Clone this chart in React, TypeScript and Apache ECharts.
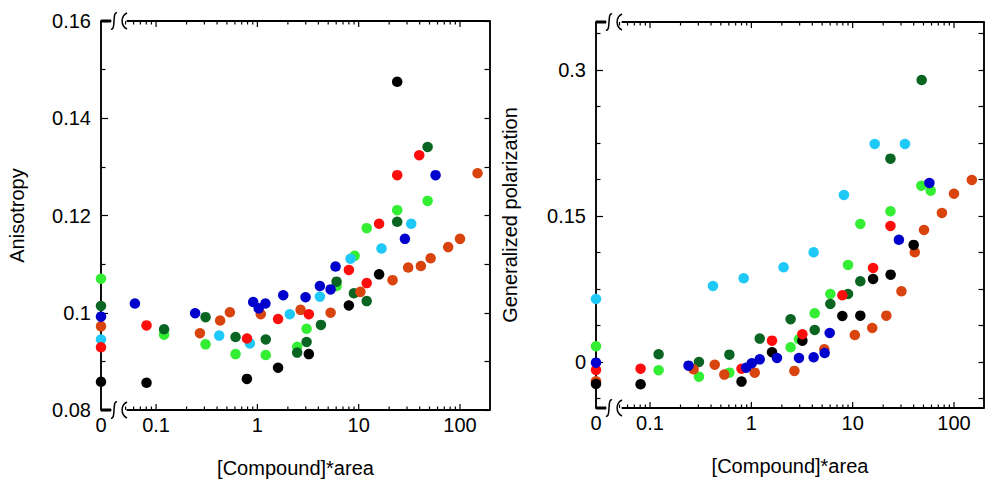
import React, { useEffect, useRef } from "react";
import * as echarts from "echarts";

type Pt = [number, number];

// ---- Anisotropy vs [Compound]*area (x = 0 points sit on the broken-axis origin)
const anLightGreen: Pt[] = [[0, 0.107], [0.12, 0.0955], [0.308, 0.0935], [0.609, 0.0915], [1.21, 0.0913], [2.47, 0.093], [3.06, 0.0967], [6.05, 0.1055], [9.12, 0.1117], [12.0, 0.1174], [24.0, 0.1211], [47.9, 0.123]];
const anDarkGreen: Pt[] = [[0, 0.1014], [0.12, 0.0966], [0.308, 0.0991], [0.609, 0.095], [1.21, 0.0945], [2.47, 0.0918], [3.06, 0.094], [4.24, 0.0975], [6.05, 0.1064], [8.97, 0.104], [12.0, 0.1024], [24.0, 0.1187], [47.9, 0.1341]];
const anCyan: Pt[] = [[0, 0.0945], [0.42, 0.0953], [0.843, 0.0937], [2.09, 0.0997], [4.14, 0.1033], [8.3, 0.1111], [16.8, 0.1132], [33, 0.1183]];
const anOrange: Pt[] = [[0, 0.0972], [0.271, 0.0958], [0.429, 0.0984], [0.535, 0.1001], [1.08, 0.0997], [2.67, 0.1006], [5.28, 0.1], [10.4, 0.1043], [21.6, 0.1067], [30.8, 0.1093], [41.1, 0.1096], [51.3, 0.1112], [76.5, 0.1135], [100, 0.1152], [149, 0.1287]];
const anBlack: Pt[] = [[0, 0.0858], [0.0805, 0.0856], [0.788, 0.0864], [1.6, 0.0887], [3.22, 0.0915], [8.0, 0.1015], [15.9, 0.1079], [24.0, 0.1475]];
const anRed: Pt[] = [[0, 0.0929], [0.0805, 0.0974], [0.79, 0.0947], [1.6, 0.0987], [3.22, 0.0997], [8.0, 0.1088], [12.0, 0.1061], [15.9, 0.1183], [24.0, 0.1283], [39.6, 0.1324]];
const anBlue: Pt[] = [[0, 0.0992], [0.0618, 0.1019], [0.243, 0.0999], [0.909, 0.1022], [1.03, 0.1009], [1.2, 0.1019], [1.8, 0.1036], [2.99, 0.1032], [4.14, 0.1055], [5.28, 0.1048], [5.91, 0.1095], [28.6, 0.1152], [57.4, 0.1283]];

// ---- Generalized polarization vs [Compound]*area
const gpLightGreen: Pt[] = [[0, 0.0161], [0.1216, -0.0085], [0.304, -0.0151], [0.607, -0.011], [2.44, 0.0151], [2.95, 0.0233], [4.22, 0.05], [6.02, 0.0699], [9.0, 0.0997], [11.9, 0.1418], [23.6, 0.1548], [47.6, 0.1811], [58.9, 0.176]];
const gpDarkGreen: Pt[] = [[0.1216, 0.0079], [0.304, 0.0], [0.607, 0.0075], [1.21, 0.024], [2.44, 0.0439], [4.22, 0.0329], [6.02, 0.0596], [9.0, 0.0699], [11.9, 0.0829], [23.6, 0.2089], [48, 0.2897]];
const gpCyan: Pt[] = [[0, 0.0647], [0.418, 0.0781], [0.84, 0.086], [2.08, 0.0973], [4.12, 0.1127], [8.2, 0.1716], [16.5, 0.224], [32.8, 0.224]];
const gpOrange: Pt[] = [[0, -0.0198], [0.269, -0.0075], [0.435, -0.0028], [0.541, -0.013], [1.08, -0.011], [2.66, -0.0092], [5.25, 0.013], [10.5, 0.0277], [15.6, 0.0349], [21.5, 0.0476], [30.3, 0.0726], [41, 0.1127], [50.6, 0.1356], [76, 0.1531], [100, 0.1729], [150, 0.187]];
const gpBlack: Pt[] = [[0, -0.0226], [0.0807, -0.0229], [0.8, -0.0202], [1.6, 0.01], [3.19, 0.0219], [7.91, 0.0473], [11.9, 0.0476], [15.9, 0.0853], [23.7, 0.0897], [40, 0.1203]];
const gpRed: Pt[] = [[0, -0.0082], [0.0807, -0.0069], [0.8, -0.0069], [1.6, 0.0219], [3.19, 0.0285], [7.91, 0.0685], [15.9, 0.0966], [23.6, 0.1397]];
const gpBlue: Pt[] = [[0, -0.0007], [0.24, -0.0038], [0.89, -0.0059], [1.01, -0.0013], [1.21, 0.0027], [1.79, 0.0041], [2.95, 0.0041], [4.12, 0.0048], [5.29, 0.0092], [5.93, 0.0298], [28.6, 0.1255], [57.2, 0.1839]];

// Tick positions on the logarithmic x axes
const X_MAJOR_TICKS = [0.1, 1, 10, 100];
const X_MINOR_TICKS = [0.05, 0.06, 0.07, 0.08, 0.09, 0.2, 0.3, 0.4, 0.5, 0.6, 0.7, 0.8, 0.9, 2, 3, 4, 5, 6, 7, 8, 9, 20, 30, 40, 50, 60, 70, 80, 90];
// Polarization axis ticks
const GP_MAJOR_TICKS = [0, 0.15, 0.3];
const GP_MINOR_TICKS = [-0.0375, 0.0375, 0.075, 0.1125, 0.1875, 0.225, 0.2625, 0.3375];

const COLORS = {
  lightGreen: "#33ee33",
  darkGreen: "#0b6522",
  cyan: "#1ec8f7",
  orange: "#d9440e",
  black: "#000000",
  red: "#ff0d0d",
  blue: "#0000cc",
};

const FONT = '"Liberation Sans", Arial, sans-serif';
const AXIS_COLOR = "#000";

const LAYOUT = [
  { left: 101, top: 21, width: 389, height: 389, xMin: 0.0286, xMax: 197.8 },
  { left: 596, top: 22, width: 388, height: 386, xMin: 0.0293, xMax: 197.8 },
];

const panelSeries: { color: string; data: Pt[] }[][] = [
  [
    { color: COLORS.lightGreen, data: anLightGreen },
    { color: COLORS.darkGreen, data: anDarkGreen },
    { color: COLORS.cyan, data: anCyan },
    { color: COLORS.orange, data: anOrange },
    { color: COLORS.black, data: anBlack },
    { color: COLORS.red, data: anRed },
    { color: COLORS.blue, data: anBlue },
  ],
  [
    { color: COLORS.lightGreen, data: gpLightGreen },
    { color: COLORS.darkGreen, data: gpDarkGreen },
    { color: COLORS.cyan, data: gpCyan },
    { color: COLORS.orange, data: gpOrange },
    { color: COLORS.black, data: gpBlack },
    { color: COLORS.red, data: gpRed },
    { color: COLORS.blue, data: gpBlue },
  ],
];

const labelStyle = { fontSize: 20, fontFamily: FONT, color: "#000" };

const powerOfTen = (v: number) => {
  const l = Math.log10(v);
  return Math.abs(l - Math.round(l)) < 1e-6 ? String(v) : "";
};

function buildXAxes(i: number) {
  const L = LAYOUT[i];
  return [
    {
      type: "log",
      gridIndex: i,
      position: "bottom",
      min: L.xMin,
      max: L.xMax,
      axisLine: { show: false, onZero: false },
      axisTick: { show: false },
      axisLabel: { ...labelStyle, margin: 5, formatter: powerOfTen, showMinLabel: false, showMaxLabel: false },
      splitLine: { show: false },
      name: "[Compound]*area",
      nameLocation: "middle",
      nameGap: 48,
      nameTextStyle: { ...labelStyle },
    },
    {
      // holds the x = 0 points at the left end of the broken axis
      type: "value",
      gridIndex: i,
      position: "bottom",
      min: 0,
      max: 1,
      interval: 1,
      axisLine: { show: false, onZero: false },
      axisTick: { show: false },
      axisLabel: { ...labelStyle, margin: 5, formatter: (v: number) => (v === 0 ? "0" : "") },
      splitLine: { show: false },
    },
  ];
}

const yLine = () => ({ show: true, onZero: false, lineStyle: { color: AXIS_COLOR, width: 1.5 } });
const tickLine = () => ({ color: AXIS_COLOR, width: 1.2 });

const yAxes = [
  {
    type: "value",
    gridIndex: 0,
    position: "left",
    min: 0.08,
    max: 0.16,
    interval: 0.02,
    axisLine: yLine(),
    axisTick: { show: true, inside: true, length: 7, lineStyle: tickLine() },
    minorTick: { show: true, splitNumber: 2, length: 4.5, lineStyle: tickLine() },
    axisLabel: { ...labelStyle, margin: 10 },
    splitLine: { show: false },
    name: "Anisotropy",
    nameLocation: "middle",
    nameGap: 74,
    nameTextStyle: { ...labelStyle },
  },
  {
    type: "value",
    gridIndex: 0,
    position: "right",
    min: 0.08,
    max: 0.16,
    interval: 0.02,
    axisLine: yLine(),
    axisTick: { show: true, inside: true, length: 5.5, lineStyle: tickLine() },
    minorTick: { show: true, splitNumber: 2, length: 5.5, lineStyle: tickLine() },
    axisLabel: { show: false },
    splitLine: { show: false },
  },
  {
    type: "value",
    gridIndex: 1,
    position: "left",
    min: -0.0473,
    max: 0.3493,
    axisLine: yLine(),
    axisTick: { show: true, inside: true, length: 7, lineStyle: tickLine(), customValues: GP_MAJOR_TICKS },
    axisLabel: { ...labelStyle, margin: 10, customValues: GP_MAJOR_TICKS },
    splitLine: { show: false },
    name: "Generalized polarization",
    nameLocation: "middle",
    nameGap: 76,
    nameTextStyle: { ...labelStyle },
  },
  {
    type: "value",
    gridIndex: 1,
    position: "left",
    min: -0.0473,
    max: 0.3493,
    axisLine: { show: false, onZero: false },
    axisTick: { show: true, inside: true, length: 4.5, lineStyle: tickLine(), customValues: GP_MINOR_TICKS },
    axisLabel: { show: false },
    splitLine: { show: false },
  },
  {
    type: "value",
    gridIndex: 1,
    position: "right",
    min: -0.0473,
    max: 0.3493,
    axisLine: yLine(),
    axisTick: {
      show: true,
      inside: true,
      length: 5.5,
      lineStyle: tickLine(),
      customValues: [...GP_MAJOR_TICKS, ...GP_MINOR_TICKS].sort((a, b) => a - b),
    },
    axisLabel: { show: false },
    splitLine: { show: false },
  },
];

const Y_MAIN = [0, 2];
const Y_MIN = [0.08, -0.0473];

// Top/bottom frame of a panel: heavy origin segment, gap with two break marks, then the edge line
function frameParts(cs: any) {
  const parts: any[] = [];
  const curve = { stroke: AXIS_COLOR, lineWidth: 1.5, fill: null };
  for (const y of [cs.y, cs.y + cs.height]) {
    parts.push({ type: "rect", shape: { x: cs.x + 10.5, y: y - 3, width: 15, height: 6 }, style: { fill: "#fff" } });
    parts.push({ type: "rect", shape: { x: cs.x + 26, y: y - 1, width: cs.width - 26, height: 2 }, style: { fill: AXIS_COLOR } });
    parts.push({ type: "rect", shape: { x: cs.x, y: y - 1.5, width: 10, height: 3 }, style: { fill: AXIS_COLOR } });
    const c1 = cs.x + 13;
    parts.push({
      type: "bezierCurve",
      shape: { x1: c1 + 3, y1: y - 8, cpx1: c1 - 2, cpy1: y - 10, cpx2: c1 + 2, cpy2: y + 10, x2: c1 - 3, y2: y + 8 },
      style: curve,
    });
    const c2 = cs.x + 23;
    parts.push({
      type: "bezierCurve",
      shape: { x1: c2 + 3, y1: y - 8, cpx1: c2 - 3.5, cpy1: y - 5, cpx2: c2 - 3.5, cpy2: y + 5, x2: c2 + 3, y2: y + 8 },
      style: curve,
    });
  }
  return parts;
}

function buildSeries() {
  const out: any[] = [];
  for (let i = 0; i < 2; i++) {
    const xLog = i * 2;
    const xZero = i * 2 + 1;
    for (const s of panelSeries[i]) {
      const base = {
        type: "scatter",
        yAxisIndex: Y_MAIN[i],
        symbol: "circle",
        symbolSize: 10.5,
        clip: false,
        itemStyle: { color: s.color, opacity: 1 },
      };
      out.push({ ...base, xAxisIndex: xZero, data: s.data.filter((p) => p[0] === 0) });
      out.push({ ...base, xAxisIndex: xLog, data: s.data.filter((p) => p[0] > 0) });
    }
    // tick marks of the log axes (top and bottom), placed through the log scale, plus the frame
    const ticks = [
      ...X_MAJOR_TICKS.map((v) => [v, Y_MIN[i], 6]),
      ...X_MINOR_TICKS.map((v) => [v, Y_MIN[i], 3.5]),
    ];
    out.push({
      type: "custom",
      xAxisIndex: xLog,
      yAxisIndex: Y_MAIN[i],
      silent: true,
      clip: false,
      data: ticks,
      renderItem: (params: any, api: any) => {
        const x = api.coord([api.value(0), api.value(1)])[0];
        const len = api.value(2);
        const cs = params.coordSys;
        const children: any[] = [];
        if (params.dataIndex === 0) children.push(...frameParts(cs));
        children.push(
          { type: "rect", shape: { x: x - 0.6, y: cs.y + cs.height - len, width: 1.2, height: len }, style: { fill: AXIS_COLOR } },
          { type: "rect", shape: { x: x - 0.6, y: cs.y, width: 1.2, height: len }, style: { fill: AXIS_COLOR } },
        );
        return { type: "group", children };
      },
    });
  }
  return out;
}

export default function App() {
  const ref = useRef<HTMLDivElement>(null);

  useEffect(() => {
    document.body.style.margin = "0";
    if (!ref.current) return;
    const chart = echarts.init(ref.current, undefined, { renderer: "svg" });
    chart.setOption({
      animation: false,
      backgroundColor: "#fff",
      grid: LAYOUT.map((L) => ({
        left: L.left,
        top: L.top,
        width: L.width,
        height: L.height,
        show: true,
        backgroundColor: "transparent",
        borderColor: AXIS_COLOR,
        borderWidth: 1.5,
      })),
      xAxis: [...buildXAxes(0), ...buildXAxes(1)],
      yAxis: yAxes,
      series: buildSeries(),
    });
    return () => chart.dispose();
  }, []);

  return <div ref={ref} style={{ width: 995, height: 488 }} />;
}
